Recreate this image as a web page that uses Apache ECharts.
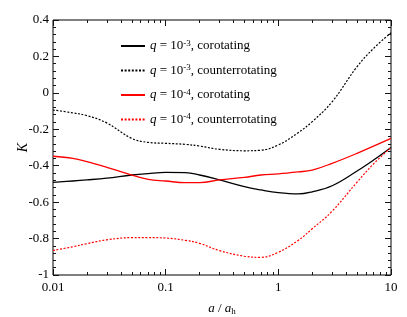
<!DOCTYPE html>
<html><head><meta charset="utf-8">
<script src="https://cdn.jsdelivr.net/npm/echarts@6/dist/echarts.min.js"></script>
<style>html,body{margin:0;padding:0;background:#fff}#c{width:407px;height:317px}</style>
</head><body><div id="c"></div>
<script>
const xs = [0.01,0.015,0.02,0.03,0.05,0.07,0.1,0.15,0.2,0.3,0.5,0.7,1,1.5,2,3,5,7,10];
const q3Co = [-0.491,-0.484,-0.478,-0.468,-0.451,-0.443,-0.437,-0.438,-0.451,-0.478,-0.515,-0.533,-0.548,-0.555,-0.543,-0.51,-0.429,-0.369,-0.30];
const q3Counter = [-0.094,-0.11,-0.125,-0.165,-0.25,-0.272,-0.277,-0.283,-0.292,-0.31,-0.318,-0.315,-0.286,-0.219,-0.158,-0.049,0.144,0.244,0.33];
const q4Co = [-0.348,-0.36,-0.378,-0.409,-0.451,-0.475,-0.484,-0.493,-0.493,-0.478,-0.464,-0.451,-0.445,-0.434,-0.424,-0.387,-0.332,-0.292,-0.25];
const q4Counter = [-0.865,-0.845,-0.828,-0.807,-0.795,-0.795,-0.797,-0.81,-0.826,-0.866,-0.897,-0.903,-0.875,-0.81,-0.746,-0.65,-0.49,-0.39,-0.30];
const xMajor = [0.01,0.1,1,10];
const xMinor = [0.02,0.03,0.04,0.05,0.06,0.07,0.08,0.09,0.2,0.3,0.4,0.5,0.6,0.7,0.8,0.9,2,3,4,5,6,7,8,9];
const legendLabels = {
  a: '{i|q} = 10{s|-3}, corotating',
  b: '{i|q} = 10{s|-3}, counterrotating',
  c: '{i|q} = 10{s|-4}, corotating',
  d: '{i|q} = 10{s|-4}, counterrotating'
};
const F = 'Liberation Serif';
const TC = 'rgb(20,20,20)';
const pairs = a => xs.map((x,i)=>[x,a[i]]);
const chart = echarts.init(document.getElementById('c'));
const G = {left:53, right:16, top:20, bottom:42, containLabel:false, outerBoundsMode:'none'};
const xBase = {type:'log', logBase:10, min:0.01, max:10, splitLine:{show:false}, minorTick:{show:false}, minorSplitLine:{show:false}, axisLine:{show:false, onZero:false}, gridIndex:0};
const tk = (len, vals) => ({show:true, inside:true, length:len, customValues:vals, lineStyle:{color:TC, width:1}});
const yTicks = {
  axisTick:{show:true, inside:true, length:6, lineStyle:{color:TC, width:1}},
  minorTick:{show:true, splitNumber:5, length:3, lineStyle:{color:TC, width:1}}
};
chart.setOption({
  animation:false,
  grid:[Object.assign({show:true, borderColor:'#000', borderWidth:1, backgroundColor:'transparent'}, G), Object.assign({show:false}, G)],
  xAxis:[
    Object.assign({}, xBase, {position:'bottom', axisTick:tk(6, xMajor),
      axisLabel:{show:true, customValues:xMajor, margin:6, color:'#000', fontFamily:F, fontSize:13, formatter:v=>String(v)},
      name:'{i|a} / {i|a}{s|h}', nameLocation:'middle', nameGap:26,
      nameTextStyle:{color:'#000', fontFamily:F, fontSize:13, rich:{i:{fontStyle:'italic', fontFamily:F, fontSize:13}, s:{fontFamily:F, fontSize:9, verticalAlign:'bottom', padding:[6,0,0,0]}}}}),
    Object.assign({}, xBase, {position:'bottom', axisTick:tk(3, xMinor), axisLabel:{show:false}}),
    Object.assign({}, xBase, {position:'top', axisTick:tk(6, xMajor), axisLabel:{show:false}}),
    Object.assign({}, xBase, {position:'top', axisTick:tk(3, xMinor), axisLabel:{show:false}}),
    {type:'log', min:0.01, max:10, gridIndex:1, axisLine:{show:false}, axisTick:{show:false}, axisLabel:{show:false}, splitLine:{show:false}}
  ],
  yAxis:[
    {type:'value', gridIndex:0, min:-1, max:0.4, interval:0.2, axisLine:{show:false}, axisTick:{show:false}, axisLabel:{show:false}, splitLine:{show:false}},
    Object.assign({type:'value', gridIndex:1, position:'left', min:-1, max:0.4, interval:0.2, axisLine:{show:false}, splitLine:{show:false},
     axisLabel:{color:'#000', fontFamily:F, fontSize:13, margin:4, formatter:v=>String(Math.round(v*10)/10)},
     name:'K', nameLocation:'middle', nameGap:23, nameRotate:90, nameMoveOverlap:false,
     nameTextStyle:{color:'#000', fontFamily:F, fontSize:14, fontStyle:'italic'}}, yTicks),
    Object.assign({type:'value', gridIndex:1, position:'right', min:-1, max:0.4, interval:0.2, axisLine:{show:false}, splitLine:{show:false},
     axisLabel:{show:false}}, yTicks)
  ],
  legend:{orient:'vertical', left:115, top:34, itemWidth:24, itemHeight:12, itemGap:11,
    data:['a','b','c','d'],
    itemStyle:{opacity:0},
    formatter:n=>legendLabels[n],
    textStyle:{color:'#000', fontFamily:F, fontSize:13,
      rich:{i:{fontStyle:'italic', fontFamily:F, fontSize:13}, s:{fontFamily:F, fontSize:9, verticalAlign:'top', padding:[0,0,5,0]}}}},
  series:[
    {name:'a', type:'line', xAxisIndex:0, yAxisIndex:0, data:pairs(q3Co), smooth:0.4, showSymbol:false, symbol:'none', lineStyle:{color:'#000', width:1.3}, itemStyle:{color:'#000'}},
    {name:'b', type:'line', xAxisIndex:0, yAxisIndex:0, data:pairs(q3Counter), smooth:0.4, showSymbol:false, symbol:'none', lineStyle:{color:'#000', width:1.2, type:[2,1.6]}, itemStyle:{color:'#000'}},
    {name:'c', type:'line', xAxisIndex:0, yAxisIndex:0, data:pairs(q4Co), smooth:0.4, showSymbol:false, symbol:'none', lineStyle:{color:'#ff0000', width:1.3}, itemStyle:{color:'#ff0000'}},
    {name:'d', type:'line', xAxisIndex:0, yAxisIndex:0, data:pairs(q4Counter), smooth:0.4, showSymbol:false, symbol:'none', lineStyle:{color:'#ff0000', width:1.2, type:[2,1.6]}, itemStyle:{color:'#ff0000'}}
  ]
});
</script></body></html>
